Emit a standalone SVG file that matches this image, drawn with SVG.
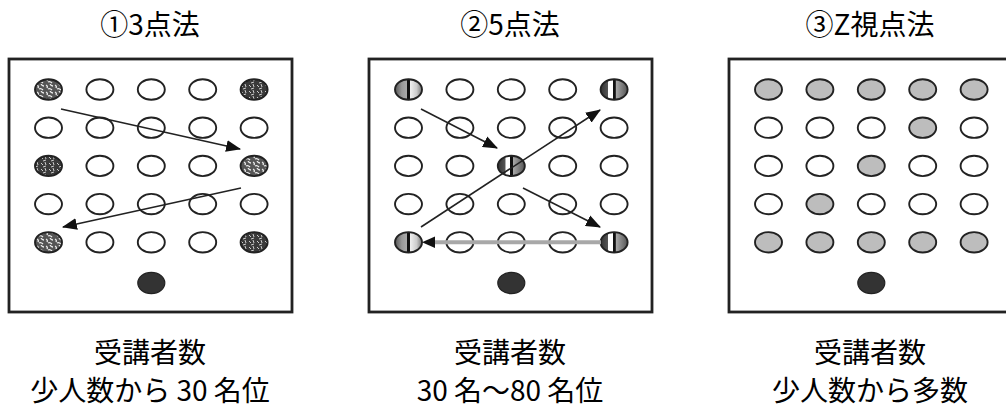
<svg xmlns="http://www.w3.org/2000/svg" width="1006" height="410" viewBox="0 0 1006 410">
<style>
.t{font-family:"Noto Sans CJK JP","Noto Sans CJK SC",sans-serif;font-size:28px;fill:#000;text-anchor:middle}
.box{fill:#fff;stroke:#222;stroke-width:2.8}
ellipse{stroke:#222;stroke-width:1.9}
.c{fill:#fff}
.g{fill:#bdbdbd}
.k{fill:#333;stroke-width:1.2}
.sp{fill:url(#speck)}
.sp2{fill:url(#speck2)}
.st{fill:url(#stripe)}
.st2{fill:url(#stripe2)}
.a{fill:none;stroke:#222;stroke-width:1.6}
.gl{fill:none;stroke:#a8a8a8;stroke-width:4}
</style>
<defs>
<pattern id="speck" width="9" height="7" patternUnits="userSpaceOnUse">
<rect width="9" height="7" fill="#555"/>
<path d="M1 1 q2 1 1 3 M5 0 q1 2 3 2 M3 5 q2 -1 4 1" stroke="#eee" stroke-width="1.3" fill="none"/>
</pattern>
<pattern id="speck2" width="8" height="6" patternUnits="userSpaceOnUse">
<rect width="8" height="6" fill="#3a3a3a"/>
<path d="M1 1 l2 2 M5 0 l1 3 M3 5 l3 -1" stroke="#ccc" stroke-width="1" fill="none"/>
</pattern>
<linearGradient id="stripe" x1="0" x2="1" y1="0" y2="0">
<stop offset="0" stop-color="#555"/>
<stop offset="0.25" stop-color="#999"/>
<stop offset="0.44" stop-color="#aaa"/>
<stop offset="0.45" stop-color="#111"/>
<stop offset="0.56" stop-color="#111"/>
<stop offset="0.57" stop-color="#eee"/>
<stop offset="0.8" stop-color="#ccc"/>
<stop offset="1" stop-color="#777"/>
</linearGradient>
<linearGradient id="stripe2" x1="0" x2="1" y1="0" y2="0">
<stop offset="0" stop-color="#333"/>
<stop offset="0.28" stop-color="#555"/>
<stop offset="0.29" stop-color="#fff"/>
<stop offset="0.45" stop-color="#fff"/>
<stop offset="0.46" stop-color="#111"/>
<stop offset="0.55" stop-color="#111"/>
<stop offset="0.56" stop-color="#aaa"/>
<stop offset="1" stop-color="#555"/>
</linearGradient>
<marker id="ah" viewBox="0 0 14 11" refX="13" refY="5.5" markerWidth="15" markerHeight="12" markerUnits="userSpaceOnUse" orient="auto">
<path d="M0 0 L14 5.5 L0 11 Z" fill="#111"/>
</marker>
</defs>

<g id="titles">
<text class="t" x="150" y="35">①3点法</text>
<text class="t" x="510" y="35">②5点法</text>
<text class="t" x="870" y="35">③Z視点法</text>
</g>

<g id="panel1">
<rect class="box" x="9" y="59" width="283" height="253"/>
<ellipse id="p1-00" class="sp" cx="48.5" cy="89.5" rx="13.5" ry="10.2"/>
<ellipse class="c" cx="99.9" cy="89.5" rx="13.5" ry="10.2"/>
<ellipse class="c" cx="151.3" cy="89.5" rx="13.5" ry="10.2"/>
<ellipse class="c" cx="202.7" cy="89.5" rx="13.5" ry="10.2"/>
<ellipse id="p1-40" class="sp2" cx="254.1" cy="89.5" rx="13.5" ry="10.2"/>
<ellipse class="c" cx="48.5" cy="127.7" rx="13.5" ry="10.2"/>
<ellipse class="c" cx="99.9" cy="127.7" rx="13.5" ry="10.2"/>
<ellipse class="c" cx="151.3" cy="127.7" rx="13.5" ry="10.2"/>
<ellipse class="c" cx="202.7" cy="127.7" rx="13.5" ry="10.2"/>
<ellipse class="c" cx="254.1" cy="127.7" rx="13.5" ry="10.2"/>
<ellipse id="p1-02" class="sp2" cx="48.5" cy="165.9" rx="13.5" ry="10.2"/>
<ellipse class="c" cx="99.9" cy="165.9" rx="13.5" ry="10.2"/>
<ellipse class="c" cx="151.3" cy="165.9" rx="13.5" ry="10.2"/>
<ellipse class="c" cx="202.7" cy="165.9" rx="13.5" ry="10.2"/>
<ellipse id="p1-42" class="sp" cx="254.1" cy="165.9" rx="13.5" ry="10.2"/>
<ellipse class="c" cx="48.5" cy="204.1" rx="13.5" ry="10.2"/>
<ellipse class="c" cx="99.9" cy="204.1" rx="13.5" ry="10.2"/>
<ellipse class="c" cx="151.3" cy="204.1" rx="13.5" ry="10.2"/>
<ellipse class="c" cx="202.7" cy="204.1" rx="13.5" ry="10.2"/>
<ellipse class="c" cx="254.1" cy="204.1" rx="13.5" ry="10.2"/>
<ellipse id="p1-04" class="sp" cx="48.5" cy="242.3" rx="13.5" ry="10.2"/>
<ellipse class="c" cx="99.9" cy="242.3" rx="13.5" ry="10.2"/>
<ellipse class="c" cx="151.3" cy="242.3" rx="13.5" ry="10.2"/>
<ellipse class="c" cx="202.7" cy="242.3" rx="13.5" ry="10.2"/>
<ellipse id="p1-44" class="sp2" cx="254.1" cy="242.3" rx="13.5" ry="10.2"/>
<ellipse id="p1-lead" class="k" cx="151.3" cy="283" rx="13.5" ry="10.6"/>
</g>

<g id="panel2">
<rect class="box" x="369" y="59" width="283" height="253"/>
<ellipse id="p2-00" class="st" cx="408.5" cy="89.5" rx="13.5" ry="10.2"/>
<ellipse class="c" cx="459.9" cy="89.5" rx="13.5" ry="10.2"/>
<ellipse class="c" cx="511.3" cy="89.5" rx="13.5" ry="10.2"/>
<ellipse class="c" cx="562.7" cy="89.5" rx="13.5" ry="10.2"/>
<ellipse id="p2-40" class="st2" cx="614.1" cy="89.5" rx="13.5" ry="10.2"/>
<ellipse class="c" cx="408.5" cy="127.7" rx="13.5" ry="10.2"/>
<ellipse class="c" cx="459.9" cy="127.7" rx="13.5" ry="10.2"/>
<ellipse class="c" cx="511.3" cy="127.7" rx="13.5" ry="10.2"/>
<ellipse class="c" cx="562.7" cy="127.7" rx="13.5" ry="10.2"/>
<ellipse class="c" cx="614.1" cy="127.7" rx="13.5" ry="10.2"/>
<ellipse class="c" cx="408.5" cy="165.9" rx="13.5" ry="10.2"/>
<ellipse class="c" cx="459.9" cy="165.9" rx="13.5" ry="10.2"/>
<ellipse id="p2-22" class="st2" cx="511.3" cy="165.9" rx="13.5" ry="10.2"/>
<ellipse class="c" cx="562.7" cy="165.9" rx="13.5" ry="10.2"/>
<ellipse class="c" cx="614.1" cy="165.9" rx="13.5" ry="10.2"/>
<ellipse class="c" cx="408.5" cy="204.1" rx="13.5" ry="10.2"/>
<ellipse class="c" cx="459.9" cy="204.1" rx="13.5" ry="10.2"/>
<ellipse class="c" cx="511.3" cy="204.1" rx="13.5" ry="10.2"/>
<ellipse class="c" cx="562.7" cy="204.1" rx="13.5" ry="10.2"/>
<ellipse class="c" cx="614.1" cy="204.1" rx="13.5" ry="10.2"/>
<ellipse id="p2-04" class="st" cx="408.5" cy="242.3" rx="13.5" ry="10.2"/>
<ellipse class="c" cx="459.9" cy="242.3" rx="13.5" ry="10.2"/>
<ellipse class="c" cx="511.3" cy="242.3" rx="13.5" ry="10.2"/>
<ellipse class="c" cx="562.7" cy="242.3" rx="13.5" ry="10.2"/>
<ellipse id="p2-44" class="st2" cx="614.1" cy="242.3" rx="13.5" ry="10.2"/>
<ellipse id="p2-lead" class="k" cx="511.3" cy="283" rx="13.5" ry="10.6"/>
</g>

<g id="panel3">
<rect class="box" x="729" y="59" width="290" height="253"/>
<ellipse class="g" cx="768.5" cy="89.5" rx="13.5" ry="10.2"/>
<ellipse class="g" cx="819.9" cy="89.5" rx="13.5" ry="10.2"/>
<ellipse class="g" cx="871.3" cy="89.5" rx="13.5" ry="10.2"/>
<ellipse class="g" cx="922.7" cy="89.5" rx="13.5" ry="10.2"/>
<ellipse class="g" cx="974.1" cy="89.5" rx="13.5" ry="10.2"/>
<ellipse class="c" cx="768.5" cy="127.7" rx="13.5" ry="10.2"/>
<ellipse class="c" cx="819.9" cy="127.7" rx="13.5" ry="10.2"/>
<ellipse class="c" cx="871.3" cy="127.7" rx="13.5" ry="10.2"/>
<ellipse class="g" cx="922.7" cy="127.7" rx="13.5" ry="10.2"/>
<ellipse class="c" cx="974.1" cy="127.7" rx="13.5" ry="10.2"/>
<ellipse class="c" cx="768.5" cy="165.9" rx="13.5" ry="10.2"/>
<ellipse class="c" cx="819.9" cy="165.9" rx="13.5" ry="10.2"/>
<ellipse class="g" cx="871.3" cy="165.9" rx="13.5" ry="10.2"/>
<ellipse class="c" cx="922.7" cy="165.9" rx="13.5" ry="10.2"/>
<ellipse class="c" cx="974.1" cy="165.9" rx="13.5" ry="10.2"/>
<ellipse class="c" cx="768.5" cy="204.1" rx="13.5" ry="10.2"/>
<ellipse class="g" cx="819.9" cy="204.1" rx="13.5" ry="10.2"/>
<ellipse class="c" cx="871.3" cy="204.1" rx="13.5" ry="10.2"/>
<ellipse class="c" cx="922.7" cy="204.1" rx="13.5" ry="10.2"/>
<ellipse class="c" cx="974.1" cy="204.1" rx="13.5" ry="10.2"/>
<ellipse class="g" cx="768.5" cy="242.3" rx="13.5" ry="10.2"/>
<ellipse class="g" cx="819.9" cy="242.3" rx="13.5" ry="10.2"/>
<ellipse class="g" cx="871.3" cy="242.3" rx="13.5" ry="10.2"/>
<ellipse class="g" cx="922.7" cy="242.3" rx="13.5" ry="10.2"/>
<ellipse class="g" cx="974.1" cy="242.3" rx="13.5" ry="10.2"/>
<ellipse id="p3-lead" class="k" cx="871.3" cy="283" rx="13.5" ry="10.6"/>
</g>

<g id="connectors">
<path class="a" d="M61 109 L240 149" marker-end="url(#ah)"/>
<path class="a" d="M241 188 L63 227" marker-end="url(#ah)"/>
<path class="a" d="M421 109 L497 148" marker-end="url(#ah)"/>
<path class="a" d="M421 227 L600 110" marker-end="url(#ah)"/>
<path class="a" d="M523 188 L600 227" marker-end="url(#ah)"/>
<path class="gl" d="M601 242.3 L432 242.3"/>
<path d="M422 242.3 L435 236.5 L435 248.1 Z" fill="#111"/>
</g>

<g id="captions">
<text class="t" x="150" y="363">受講者数</text>
<text class="t" x="150" y="401">少人数から 30 名位</text>
<text class="t" x="510" y="363">受講者数</text>
<text class="t" x="510" y="401">30 名～80 名位</text>
<text class="t" x="870" y="363">受講者数</text>
<text class="t" x="870" y="401">少人数から多数</text>
</g>
</svg>
